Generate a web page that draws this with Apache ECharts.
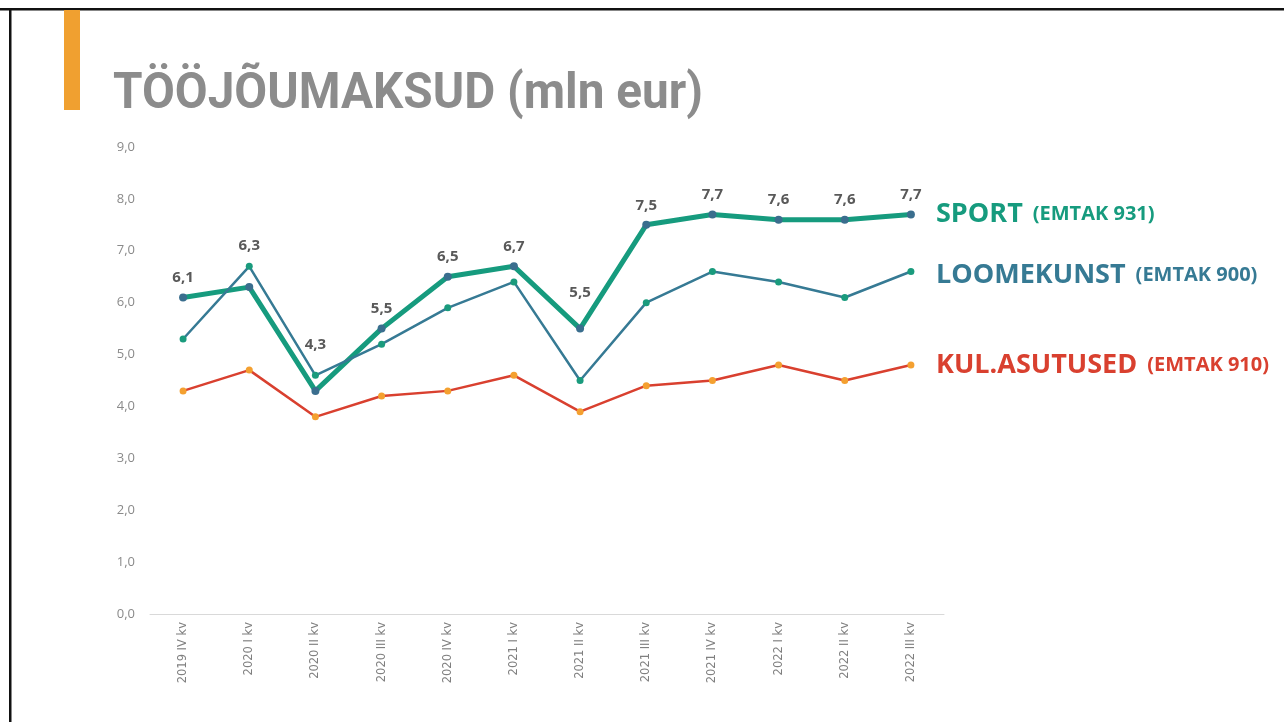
<!DOCTYPE html>
<html>
<head>
<meta charset="utf-8">
<script src="https://cdn.jsdelivr.net/npm/echarts@6/dist/echarts.min.js"></script>
<style>
html,body{margin:0;padding:0;background:#fff;}
#chart{width:1284px;height:722px;}
</style>
</head>
<body>
<div id="chart"></div>
<script>
const categories = ['2019 IV kv','2020 I kv','2020 II kv','2020 III kv','2020 IV kv','2021 I kv','2021 II kv','2021 III kv','2021 IV kv','2022 I kv','2022 II kv','2022 III kv'];
const sport = [6.1,6.3,4.3,5.5,6.5,6.7,5.5,7.5,7.7,7.6,7.6,7.7];
const loomekunst = [5.3,6.7,4.6,5.2,5.9,6.4,4.5,6.0,6.6,6.4,6.1,6.6];
const kulAsutused = [4.3,4.7,3.8,4.2,4.3,4.6,3.9,4.4,4.5,4.8,4.5,4.8];
const titleText = 'TÖÖJÕUMAKSUD (mln eur)';
const seriesNames = ['SPORT','LOOMEKUNST','KUL.ASUTUSED'];
const seriesCodes = ['(EMTAK 931)','(EMTAK 900)','(EMTAK 910)'];

const fmt = v => Number(v).toFixed(1).replace('.', ',');

const cv = document.createElement('canvas').getContext('2d');
cv.font = 'bold 50px Roboto';
const tw = cv.measureText(titleText).width;
const titleScale = 590 / tw;

// extra upward shift for labels that would collide with other lines
const labelLift = {1:-22, 2:-27, 6:-16};
const sportData = sport.map((v, i) => labelLift[i] ? {value:v, label:{offset:[0, labelLift[i]]}} : v);

const seriesColors = ['#169b7e', '#367a94', '#d9402f'];
function sideLabel(i, y){
  return {type:'text', x:936, y:y, style:{
    text:'{a|'+seriesNames[i]+'}{s|}{b|'+seriesCodes[i]+'}',
    textVerticalAlign:'bottom',
    rich:{
      a:{fontFamily:'Open Sans', fontWeight:'bold', fontSize:27, fill:seriesColors[i], color:seriesColors[i]},
      s:{width:10, fontSize:18},
      b:{fontFamily:'Open Sans', fontWeight:'bold', fontSize:20, fill:seriesColors[i], color:seriesColors[i]}
    }
  }};
}

const chart = echarts.init(document.getElementById('chart'), null, {renderer:'canvas'});
const option = {
  backgroundColor:'#ffffff',
  animation:false,
  grid:{left:150, right:340, top:147, bottom:108},
  xAxis:{
    type:'category', data:categories, boundaryGap:true,
    axisLine:{lineStyle:{color:'#d9d9d9', width:1}},
    axisTick:{show:false},
    axisLabel:{rotate:90, color:'#808080', fontFamily:'DejaVu Sans', fontSize:11.5, margin:8, interval:0}
  },
  yAxis:{
    type:'value', min:0, max:9, interval:1,
    axisLine:{show:false}, axisTick:{show:false},
    splitLine:{show:false},
    axisLabel:{color:'#8a8a8a', fontFamily:'Open Sans', fontSize:13, margin:15, formatter:v=>fmt(v)}
  },
  series:[
    {
      name:seriesNames[2], type:'line', data:kulAsutused, z:2,
      lineStyle:{color:'#d9402f', width:2.5},
      itemStyle:{color:'#f4a030', borderWidth:0},
      symbol:'circle', symbolSize:7
    },
    {
      name:seriesNames[0], type:'line', data:sportData, z:3,
      lineStyle:{color:'#169b7e', width:5},
      itemStyle:{color:'#3a6e8e', borderWidth:0},
      symbol:'circle', symbolSize:8,
      label:{show:true, position:'top', distance:8, color:'#595959', fontFamily:'Open Sans', fontWeight:'bold', fontSize:15, formatter:p=>fmt(p.value)}
    },
    {
      name:seriesNames[1], type:'line', data:loomekunst, z:4,
      lineStyle:{color:'#367a94', width:2.5},
      itemStyle:{color:'#1a9b7d', borderWidth:0},
      symbol:'circle', symbolSize:7
    }
  ],
  graphic:[
    {type:'rect', shape:{x:0,y:8,width:1284,height:2.5}, style:{fill:'#111'}},
    {type:'rect', shape:{x:9,y:8,width:2.5,height:714}, style:{fill:'#111'}},
    {type:'rect', shape:{x:64,y:10,width:16,height:100}, style:{fill:'#f0a030'}},
    {type:'text', x:113, y:70, scaleX:titleScale, style:{text:titleText, font:'bold 50px Roboto', fill:'#8c8c8c'}},
    sideLabel(0, 228),
    sideLabel(1, 289),
    sideLabel(2, 379)
  ]
};
chart.setOption(option);
</script>
</body>
</html>
